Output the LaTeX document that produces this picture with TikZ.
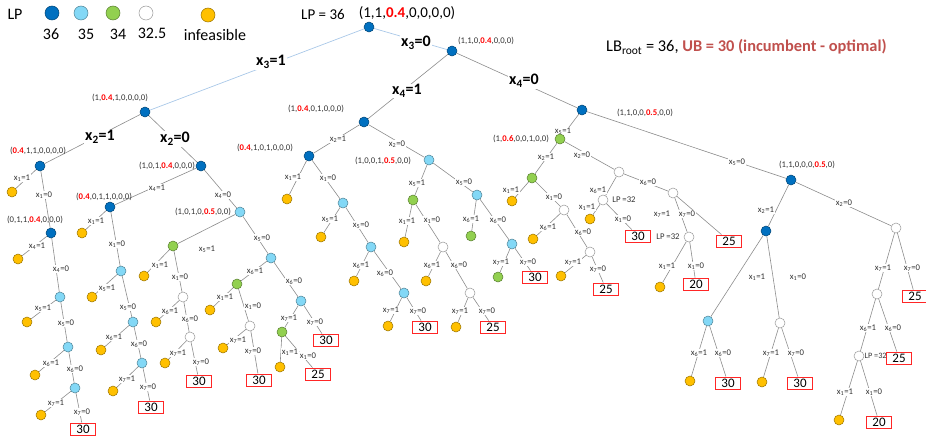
\documentclass[tikz,border=0pt]{standalone}
\usepackage{fontspec}
\setmainfont{Carlito}
\usepackage{tikz}
\usetikzlibrary{backgrounds}

\definecolor{lpdark}{HTML}{0070C0}
\definecolor{lplight}{HTML}{83D8F6}
\definecolor{lpgreen}{HTML}{92D050}
\definecolor{lpinf}{HTML}{FFC000}
\definecolor{edgegray}{HTML}{8C8C8C}
\definecolor{rootblue}{HTML}{A9C8E8}
\definecolor{ubred}{HTML}{C0504D}
\definecolor{boxred}{HTML}{FF2626}

\newcommand{\xset}[2]{x\textsubscript{#1}=#2}
\newcommand{\redv}[1]{\textcolor{red}{\textbf{#1}}}

\begin{document}
\begin{tikzpicture}[
  x=1pt, y=-1pt,
  bbnode/.style={circle, draw=#1!60!black, fill=#1, line width=0.5pt,
                 minimum size=10pt, inner sep=0pt},
  dkn/.style={bbnode=lpdark},
  lbn/.style={bbnode=lplight},
  grn/.style={bbnode=lpgreen},
  whn/.style={bbnode=white},
  orn/.style={bbnode=lpinf},
  val/.style={rectangle, draw=boxred, fill=white, line width=0.8pt,
              minimum width=25pt, minimum height=12pt, inner sep=0pt,
              font=\fontsize{13}{13}\selectfont},
  br/.style={fill=white, inner sep=0.5pt, text=black!80,
             font=\fontsize{8.7}{9}\selectfont},
  bigbr/.style={fill=white, inner sep=1pt,
                font=\fontsize{16}{16}\selectfont\bfseries},
  tup/.style={inner sep=0pt, text=black!80, font=\fontsize{8.7}{9}\selectfont},
  legtxt/.style={inner sep=0pt, font=\fontsize{16}{16}\selectfont},
  ln/.style={draw=edgegray, line width=0.6pt},
  rootln/.style={draw=rootblue, line width=0.7pt}
]
\useasboundingbox (0,0) rectangle (926,436);

% legend
\node[legtxt] (leglp) at (15,14) {LP};
\node[dkn, minimum size=14pt] (legdk) at (52,13) {};
\node[lbn, minimum size=14pt] (leglb) at (81,13) {};
\node[grn, minimum size=14pt] (leggr) at (113,13) {};
\node[whn, minimum size=14pt] (legwh) at (146,13) {};
\node[orn, minimum size=14pt] (legor) at (208,15) {};
\node[legtxt] (leg36) at (51,34) {36};
\node[legtxt] (leg35) at (86,34) {35};
\node[legtxt] (leg34) at (118,34) {34};
\node[legtxt] (leg325) at (152,33) {32.5};
\node[legtxt] (leginf) at (215,35) {infeasible};

% root and bounds
\node[legtxt, font=\fontsize{15}{15}\selectfont] (lproot) at (323,14) {LP = 36};
\node[legtxt, font=\fontsize{15}{15}\selectfont] (troot) at (407,13) {(1,1,\redv{0.4},0,0,0,0)};
\node[legtxt, anchor=west, font=\fontsize{16.4}{16.4}\selectfont] (bounds) at (606,47)
  {LB\textsubscript{root} = 36, \textcolor{ubred}{\textbf{UB = 30 (incumbent - optimal)}}};
\node[dkn] (r) at (369,27) {};

% x3 = 1 side
\node[bigbr] (ea) at (271,62) {\xset{3}{1}};
\node[dkn] (a) at (145,112) {};
\node[tup] (ta) at (120,98) {(1,\redv{0.4},1,0,0,0,0)};
\node[bigbr] (ea1) at (100,137) {\xset{2}{1}};
\node[dkn] (a1) at (40,166) {};
\node[tup] (ta1) at (38,151) {(\redv{0.4},1,1,0,0,0,0)};
\node[bigbr] (ea0) at (175,139) {\xset{2}{0}};
\node[dkn] (a0) at (201,166) {};
\node[tup] (ta0) at (167,166) {(1,0,1,\redv{0.4},0,0,0)};

\node[br] (ea11) at (22,178) {\xset{1}{1}};
\node[orn] (a11) at (12,192) {};
\node[br] (ea10) at (44,195) {\xset{1}{0}};
\node[dkn] (a10) at (51,233) {};
\node[tup] (ta10) at (35,220) {(0,1,1,\redv{0.4},0,0,0)};
\node[br] (ea101) at (37,246) {\xset{4}{1}};
\node[orn] (a101) at (18,259) {};
\node[br] (ea100) at (61,269) {\xset{4}{0}};
\node[lbn] (a100) at (60,297) {};
\node[br] (ea1001) at (43,308) {\xset{5}{1}};
\node[orn] (a1001) at (27,322) {};
\node[br] (ea1000) at (66,323) {\xset{5}{0}};
\node[lbn] (a1000) at (68,347) {};
\node[br] (ea10001) at (51,363) {\xset{6}{1}};
\node[orn] (a10001) at (35,375) {};
\node[br] (ea10000) at (75,369) {\xset{6}{0}};
\node[lbn] (a10000) at (75,388) {};
\node[br] (ea100001) at (56,403) {\xset{7}{1}};
\node[orn] (a100001) at (41,415) {};
\node[br] (ea100000) at (82,412) {\xset{7}{0}};
\node[val] (a100000) at (83,429) {30};

\node[br] (ea01) at (157,188) {\xset{4}{1}};
\node[dkn] (a01) at (110,207) {};
\node[tup] (ta01) at (104,197) {(\redv{0.4},0,1,1,0,0,0)};
\node[br] (ea00) at (223,195) {\xset{4}{0}};
\node[lbn] (a00) at (240,212) {};
\node[tup] (ta00) at (203,212) {(1,0,1,0,\redv{0.5},0,0)};
\node[br] (ea011) at (96,221) {\xset{1}{1}};
\node[orn] (a011) at (82,233) {};
\node[br] (ea010) at (117,244) {\xset{1}{0}};
\node[lbn] (a010) at (121,271) {};
\node[br] (ea0101) at (107,288) {\xset{5}{1}};
\node[orn] (a0101) at (92,297) {};
\node[br] (ea0100) at (128,307) {\xset{5}{0}};
\node[lbn] (a0100) at (133,322) {};
\node[br] (ea01001) at (114,337) {\xset{6}{1}};
\node[orn] (a01001) at (101,350) {};
\node[br] (ea01000) at (139,344) {\xset{6}{0}};
\node[lbn] (a01000) at (142,363) {};
\node[br] (ea010001) at (127,379) {\xset{7}{1}};
\node[orn] (a010001) at (113,391) {};
\node[br] (ea010000) at (148,387) {\xset{7}{0}};
\node[val] (a010000) at (151,407) {30};

\node[br] (ea001) at (207,249) {\xset{5}{1}};
\node[grn] (a001) at (173,246) {};
\node[br] (ea000) at (262,238) {\xset{5}{0}};
\node[lbn] (a000) at (271,258) {};
\node[br] (ea0011) at (160,265) {\xset{1}{1}};
\node[orn] (a0011) at (144,276) {};
\node[br] (ea0010) at (180,277) {\xset{1}{0}};
\node[whn] (a0010) at (183,297) {};
\node[br] (ea00101) at (170,311) {\xset{6}{1}};
\node[orn] (a00101) at (156,322) {};
\node[br] (ea00100) at (190,319) {\xset{6}{0}};
\node[whn] (a00100) at (190,337) {};
\node[br] (ea001001) at (178,353) {\xset{7}{1}};
\node[orn] (a001001) at (165,363) {};
\node[br] (ea001000) at (201,362) {\xset{7}{0}};
\node[val] (a001000) at (199,381) {30};
\node[br] (ea0001) at (255,271) {\xset{6}{1}};
\node[grn] (a0001) at (237,284) {};
\node[br] (ea0000) at (294,281) {\xset{6}{0}};
\node[lbn] (a0000) at (301,301) {};
\node[br] (ea00011) at (225,297) {\xset{1}{1}};
\node[orn] (a00011) at (210,310) {};
\node[br] (ea00010) at (253,306) {\xset{1}{0}};
\node[whn] (a00010) at (250,326) {};
\node[br] (ea000101) at (238,340) {\xset{7}{1}};
\node[orn] (a000101) at (223,348) {};
\node[br] (ea000100) at (253,351) {\xset{7}{0}};
\node[val] (a000100) at (259,380) {30};
\node[br] (ea00001) at (289,318) {\xset{7}{1}};
\node[grn] (a00001) at (282,332) {};
\node[br] (ea00000) at (315,322) {\xset{7}{0}};
\node[val] (a00000) at (326,340) {30};
\node[br] (ea000011) at (290,352) {\xset{1}{1}};
\node[orn] (a000011) at (280,367) {};
\node[br] (ea000010) at (308,356) {\xset{1}{0}};
\node[val] (a000010) at (318,374) {25};

% x3 = 0 side
\node[bigbr] (eb) at (416,43) {\xset{3}{0}};
\node[dkn] (b) at (452,51) {};
\node[tup] (tb) at (486,41) {(1,1,0,\redv{0.4},0,0,0)};
\node[bigbr] (eb1) at (407,91) {\xset{4}{1}};
\node[dkn] (b1) at (364,122) {};
\node[tup] (tb1) at (316,109) {(1,\redv{0.4},0,1,0,0,0)};
\node[bigbr] (eb0) at (524,81) {\xset{4}{0}};
\node[dkn] (b0) at (582,110) {};
\node[tup] (tb0) at (645,113) {(1,1,0,0,\redv{0.5},0,0)};

\node[br] (eb11) at (338,139) {\xset{2}{1}};
\node[dkn] (b11) at (309,156) {};
\node[tup] (tb11) at (265,148) {(\redv{0.4},1,0,1,0,0,0)};
\node[br] (eb10) at (397,144) {\xset{2}{0}};
\node[lbn] (b10) at (429,160) {};
\node[tup] (tb10) at (383,161) {(1,0,0,1,\redv{0.5},0,0)};
\node[br] (eb111) at (293,177) {\xset{1}{1}};
\node[orn] (b111) at (287,199) {};
\node[br] (eb110) at (328,178) {\xset{1}{0}};
\node[lbn] (b110) at (343,203) {};
\node[br] (eb1101) at (330,219) {\xset{5}{1}};
\node[orn] (b1101) at (321,237) {};
\node[br] (eb1100) at (361,225) {\xset{5}{0}};
\node[lbn] (b1100) at (371,247) {};
\node[br] (eb11001) at (361,265) {\xset{6}{1}};
\node[orn] (b11001) at (354,281) {};
\node[br] (eb11000) at (385,273) {\xset{6}{0}};
\node[lbn] (b11000) at (404,293) {};
\node[br] (eb110001) at (391,310) {\xset{7}{1}};
\node[orn] (b110001) at (388,326) {};
\node[br] (eb110000) at (418,311) {\xset{7}{0}};
\node[val] (b110000) at (425,327) {30};

\node[br] (eb101) at (417,183) {\xset{5}{1}};
\node[grn] (b101) at (413,200) {};
\node[br] (eb100) at (464,182) {\xset{5}{0}};
\node[lbn] (b100) at (477,195) {};
\node[br] (eb1011) at (407,221) {\xset{1}{1}};
\node[orn] (b1011) at (404,242) {};
\node[br] (eb1010) at (432,220) {\xset{1}{0}};
\node[whn] (b1010) at (443,247) {};
\node[br] (eb10101) at (432,265) {\xset{6}{1}};
\node[orn] (b10101) at (426,281) {};
\node[br] (eb10100) at (459,265) {\xset{6}{0}};
\node[whn] (b10100) at (470,293) {};
\node[br] (eb101001) at (460,311) {\xset{7}{1}};
\node[orn] (b101001) at (456,327) {};
\node[br] (eb101000) at (487,311) {\xset{7}{0}};
\node[val] (b101000) at (493,327) {25};
\node[br] (eb1001) at (471,219) {\xset{6}{1}};
\node[grn] (b1001) at (471,236) {};
\node[br] (eb1000) at (498,220) {\xset{6}{0}};
\node[lbn] (b1000) at (512,244) {};
\node[br] (eb10001) at (501,262) {\xset{7}{1}};
\node[grn] (b10001) at (498,277) {};
\node[br] (eb10000) at (528,262) {\xset{7}{0}};
\node[val] (b10000) at (535,277) {30};

\node[br] (eb01) at (563,131) {\xset{5}{1}};
\node[grn] (b01) at (560,139) {};
\node[tup] (tb01) at (521,139) {(1,\redv{0.6},0,0,1,0,0)};
\node[br] (eb00) at (737,162) {\xset{5}{0}};
\node[dkn] (b00) at (791,180) {};
\node[tup] (tb00) at (807,165) {(1,1,0,0,0,\redv{0.5},0)};

\node[br] (eb011) at (546,157) {\xset{2}{1}};
\node[grn] (b011) at (532,178) {};
\node[br] (eb010) at (582,155) {\xset{2}{0}};
\node[whn] (b010) at (619,172) {};
\node[br] (eb0111) at (511,190) {\xset{1}{1}};
\node[orn] (b0111) at (512,201) {};
\node[br] (eb0110) at (554,197) {\xset{1}{0}};
\node[whn] (b0110) at (564,210) {};
\node[br] (eb01101) at (548,227) {\xset{6}{1}};
\node[orn] (b01101) at (533,239) {};
\node[br] (eb01100) at (583,232) {\xset{6}{0}};
\node[whn] (b01100) at (590,252) {};
\node[br] (eb011001) at (573,262) {\xset{7}{1}};
\node[orn] (b011001) at (561,276) {};
\node[br] (eb011000) at (598,269) {\xset{7}{0}};
\node[val] (b011000) at (606,289) {25};
\node[br] (eb0101) at (598,190) {\xset{6}{1}};
\node[whn] (b0101) at (603,200) {};
\node[tup] (lp0101) at (624,200) {LP =32};
\node[br] (eb0100) at (648,182) {\xset{6}{0}};
\node[whn] (b0100) at (673,193) {};
\node[br] (eb01011) at (587,207) {\xset{1}{1}};
\node[orn] (b01011) at (590,219) {};
\node[br] (eb01010) at (623,219) {\xset{1}{0}};
\node[val] (b01010) at (638,236) {30};
\node[br] (fx71) at (662,214) {\xset{7}{1}};
\node[br] (eb01001) at (687,214) {\xset{7}{0}};
\node[whn] (b01001) at (689,237) {};
\node[tup] (lp01001) at (668,237) {LP =32};
\node[val] (b01000) at (729,241) {25};
\node[br] (eb010011) at (667,266) {\xset{1}{1}};
\node[orn] (b010011) at (660,287) {};
\node[br] (eb010010) at (696,266) {\xset{1}{0}};
\node[val] (b010010) at (696,284) {20};

\node[br] (eb001) at (766,210) {\xset{2}{1}};
\node[dkn] (b001) at (766,231) {};
\node[br] (eb000) at (844,203) {\xset{2}{0}};
\node[whn] (b000) at (896,228) {};
\node[br] (fx11) at (757,277) {\xset{1}{1}};
\node[br] (fx10) at (798,277) {\xset{1}{0}};
\node[lbn] (b0011) at (708,321) {};
\node[whn] (b0010) at (780,323) {};
\node[br] (eb00111) at (699,353) {\xset{6}{1}};
\node[orn] (b00111) at (690,381) {};
\node[br] (eb00110) at (723,353) {\xset{6}{0}};
\node[val] (b00110) at (728,383) {30};
\node[br] (eb00101) at (771,353) {\xset{7}{1}};
\node[orn] (b00101) at (762,382) {};
\node[br] (eb00100) at (796,353) {\xset{7}{0}};
\node[val] (b00100) at (800,383) {30};
\node[br] (eb0001) at (883,268) {\xset{7}{1}};
\node[whn] (b0001) at (877,294) {};
\node[br] (eb0000) at (912,268) {\xset{7}{0}};
\node[val] (b0000) at (915,296) {25};
\node[br] (eb00011) at (868,328) {\xset{6}{1}};
\node[whn] (b00011) at (859,356) {};
\node[br] (eb00010) at (893,328) {\xset{6}{0}};
\node[val] (b00010) at (899,358) {25};
\node[tup, anchor=west, font=\fontsize{8.2}{9}\selectfont] (lp00011) at (864.5,356) {LP =32};
\node[br] (eb000111) at (845,392) {\xset{1}{1}};
\node[orn] (b000111) at (839,420) {};
\node[br] (eb000110) at (874,392) {\xset{1}{0}};
\node[val] (b000110) at (879,422) {20};

\begin{scope}[on background layer]
\draw[rootln] (r) -- (a) (r) -- (b);
\draw[ln] (a) -- (a1) (a) -- (a0);
\draw[ln] (a1) -- (a11) (a1) -- (a10);
\draw[ln] (a10) -- (a101) (a10) -- (a100);
\draw[ln] (a100) -- (a1001) (a100) -- (a1000);
\draw[ln] (a1000) -- (a10001) (a1000) -- (a10000);
\draw[ln] (a10000) -- (a100001) (a10000) -- (a100000);
\draw[ln] (a0) -- (a01) (a0) -- (a00);
\draw[ln] (a01) -- (a011) (a01) -- (a010);
\draw[ln] (a010) -- (a0101) (a010) -- (a0100);
\draw[ln] (a0100) -- (a01001) (a0100) -- (a01000);
\draw[ln] (a01000) -- (a010001) (a01000) -- (a010000);
\draw[ln] (a00) -- (a001) (a00) -- (a000);
\draw[ln] (a001) -- (a0011) (a001) -- (a0010);
\draw[ln] (a0010) -- (a00101) (a0010) -- (a00100);
\draw[ln] (a00100) -- (a001001) (a00100) -- (a001000);
\draw[ln] (a000) -- (a0001) (a000) -- (a0000);
\draw[ln] (a0001) -- (a00011) (a0001) -- (a00010);
\draw[ln] (a00010) -- (a000101) (a00010) -- (a000100);
\draw[ln] (a0000) -- (a00001) (a0000) -- (a00000);
\draw[ln] (a00001) -- (a000011) (a00001) -- (a000010);
\draw[ln] (b) -- (b1) (b) -- (b0);
\draw[ln] (b1) -- (b11) (b1) -- (b10);
\draw[ln] (b11) -- (b111) (b11) -- (b110);
\draw[ln] (b110) -- (b1101) (b110) -- (b1100);
\draw[ln] (b1100) -- (b11001) (b1100) -- (b11000);
\draw[ln] (b11000) -- (b110001) (b11000) -- (b110000);
\draw[ln] (b10) -- (b101) (b10) -- (b100);
\draw[ln] (b101) -- (b1011) (b101) -- (b1010);
\draw[ln] (b1010) -- (b10101) (b1010) -- (b10100);
\draw[ln] (b10100) -- (b101001) (b10100) -- (b101000);
\draw[ln] (b100) -- (b1001) (b100) -- (b1000);
\draw[ln] (b1000) -- (b10001) (b1000) -- (b10000);
\draw[ln] (b0) -- (b01) (b0) -- (b00);
\draw[ln] (b01) -- (b011) (b01) -- (b010);
\draw[ln] (b011) -- (b0111) (b011) -- (b0110);
\draw[ln] (b0110) -- (b01101) (b0110) -- (b01100);
\draw[ln] (b01100) -- (b011001) (b01100) -- (b011000);
\draw[ln] (b010) -- (b0101) (b010) -- (b0100);
\draw[ln] (b0101) -- (b01011) (b0101) -- (b01010);
\draw[ln] (b0100) -- (b01001) (b0100) -- (b01000);
\draw[ln] (b01001) -- (b010011) (b01001) -- (b010010);
\draw[ln] (b00) -- (b001) (b00) -- (b000);
\draw[ln] (b001) -- (b0011) (b001) -- (b0010);
\draw[ln] (b0011) -- (b00111) (b0011) -- (b00110);
\draw[ln] (b0010) -- (b00101) (b0010) -- (b00100);
\draw[ln] (b000) -- (b0001) (b000) -- (b0000);
\draw[ln] (b0001) -- (b00011) (b0001) -- (b00010);
\draw[ln] (b00011) -- (b000111) (b00011) -- (b000110);
\end{scope}
\end{tikzpicture}
\end{document}
